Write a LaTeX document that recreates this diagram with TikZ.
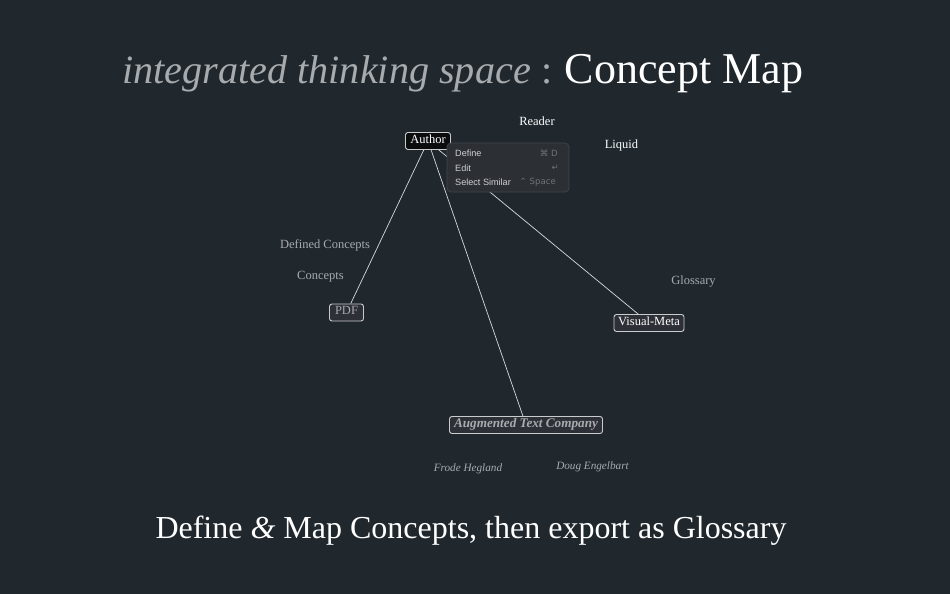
\documentclass[tikz,border=0pt]{standalone}
\usepackage{fontspec}
\setmainfont{Liberation Serif}
\newfontfamily\menufont{Liberation Sans}
\newfontfamily\symfont{DejaVu Sans}
\usetikzlibrary{positioning, arrows.meta}
\definecolor{bgdark}{HTML}{20282E}
\definecolor{dimgrey}{HTML}{A8ABAE}
\definecolor{boxline}{HTML}{C9CBCD}
\definecolor{menufill}{HTML}{2C2F34}
\definecolor{menuline}{HTML}{42464A}
\definecolor{menutext}{HTML}{D0D1D3}
\definecolor{menukey}{HTML}{6F7276}
\definecolor{boxfill}{HTML}{2D3037}
\tikzset{
  concept/.style={draw=boxline, line width=0.9pt, rounded corners=2.5pt, inner xsep=0pt, inner ysep=1pt, text height=8.5pt, text depth=4pt, font=\fontsize{12.5}{14}\selectfont},
  loose/.style={font=\fontsize{12.5}{14}\selectfont},
  menuitem/.style={anchor=west, inner sep=0pt, text=menutext, font=\menufont\fontsize{9.1}{11}\selectfont},
  menukeyitem/.style={anchor=east, inner sep=0pt, text=menukey, font=\symfont\fontsize{8.6}{11}\selectfont},
}
\begin{document}
\begin{tikzpicture}[x=1pt, y=-1pt]
    \fill [bgdark] (0, 0) rectangle (950, 594);
    \useasboundingbox (0, 0) rectangle (950, 594);

    \node [text=dimgrey, font=\fontsize{40.2}{44}\itshape\selectfont] (spacetitle) at (326.5, 74) {integrated thinking space};
    \node [text=dimgrey, font=\fontsize{40}{44}\selectfont] (colon) at (547, 74) {:};
    \node [text=white, font=\fontsize{44}{48}\selectfont] (maptitle) at (684, 74) {Concept Map};

    \node [concept, fill=black!70!bgdark, text=white, minimum width=45pt, minimum height=17pt] (Author) at (428, 141) {Author};
    \node [concept, fill=boxfill, text=dimgrey, minimum width=34pt, minimum height=17pt] (PDF) at (346.5, 312.5) {PDF};
    \node [concept, fill=boxfill, text=white, minimum width=70pt, minimum height=17pt] (VisualMeta) at (649, 323) {Visual-Meta};
    \node [concept, fill=boxfill, text=dimgrey, minimum width=153pt, minimum height=17pt, font=\fontsize{13.2}{14}\bfseries\itshape\selectfont] (Company) at (526, 425) {Augmented Text Company};

    \draw [white!85!black, line width=0.7pt] (Author) -- (PDF);
    \draw [white!85!black, line width=0.7pt] (Author) -- (Company);
    \draw [white!85!black, line width=0.7pt] (Author) -- (VisualMeta);

    \node [loose, text=white] (Reader) at (537, 121) {Reader};
    \node [loose, text=white] (Liquid) at (621.5, 145.5) {Liquid};
    \node [loose, text=dimgrey] (DefinedConcepts) at (325, 245) {Defined Concepts};
    \node [loose, text=dimgrey] (Concepts) at (320.5, 276.5) {Concepts};
    \node [loose, text=dimgrey] (Glossary) at (693.5, 281.5) {Glossary};
    \node [loose, text=dimgrey, font=\fontsize{11.2}{14}\itshape\selectfont] (Frode) at (468, 468.5) {Frode Hegland};
    \node [loose, text=dimgrey, font=\fontsize{11.2}{14}\itshape\selectfont] (Doug) at (592.5, 466.5) {Doug Engelbart};

    \node [draw=menuline, fill=menufill, line width=0.7pt, rounded corners=4pt, minimum width=122pt, minimum height=49pt, inner sep=0pt] (menu) at (508, 167.5) {};
    \node [menuitem] (define) at (455, 153.5) {Define};
    \node [menuitem] (edit) at (455, 168) {Edit};
    \node [menuitem] (similar) at (455, 182.5) {Select Similar};
    \node [menukeyitem] (definekey) at (558, 153.5) {⌘ D};
    \node [menukeyitem] (editkey) at (559, 168) {↵};
    \node [menukeyitem] (similarkey) at (556, 182.5) {⌃ Space};

    \node [text=white, font=\fontsize{32}{38}\selectfont] (footer) at (471, 531) {Define {\itshape\&} Map Concepts, then export as Glossary};
\end{tikzpicture}
\end{document}
